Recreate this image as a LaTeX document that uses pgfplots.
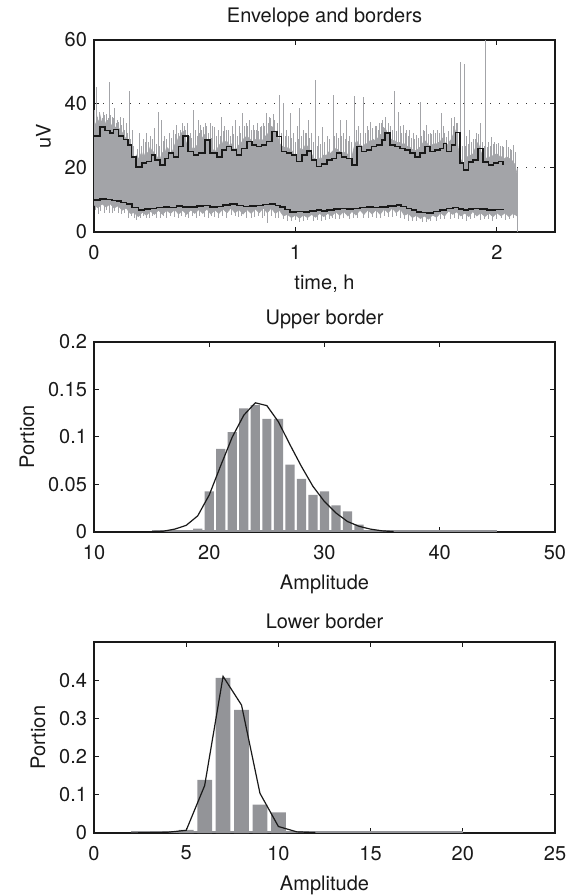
\documentclass[border=0pt]{standalone}
\usepackage{fontspec}
\setmainfont{TeX Gyre Heros}
\usepackage{pgfplots}
\pgfplotsset{compat=1.18}
\definecolor{siggray}{RGB}{163,164,168}
\definecolor{histgray}{RGB}{147,148,152}
\definecolor{lineblk}{RGB}{25,25,25}
\newcommand{\myfont}{\fontsize{10bp}{12bp}\selectfont}
\pgfplotsset{base/.style={
  scale only axis, anchor=south west, width=230.5bp,
  axis line style={line width=0.7bp, black!90},
  every tick/.style={line width=0.5bp, black!90},
  tick align=inside, major tick length=2.3bp,
  /pgf/number format/assume math mode=true,
  tick label style={font=\myfont, text=black!90},
  xticklabel style={yshift=-3bp},
  label style={font=\myfont, text=black!90},
  xlabel style={yshift=-1bp},
  title style={font=\myfont, text=black!90, yshift=-3bp},
  scaled ticks=false, clip=true,
}}
\begin{document}
\begin{tikzpicture}
% ---------------- top: envelope and borders
\begin{axis}[base, at={(47bp,331.5bp)}, height=96bp,
  xmin=0, xmax=2.288, ymin=0, ymax=60,
  xtick={0,1,2}, xticklabels={0,1,2},
  ytick={0,20,40,60}, yticklabels={0,20,40,60},
  ymajorgrids, grid style={black!80, line width=0.5bp, dash pattern=on 0.5bp off 4bp},
  title={Envelope and borders}, xlabel={time, h}, ylabel={uV},
  unbounded coords=jump]
% dense signal band
\addplot[fill=siggray, draw=siggray, line width=0.3bp] coordinates {
(0.000,35) (0.008,33) (0.015,36) (0.022,34) (0.030,36.5) (0.038,34) (0.045,35.5) (0.055,33.5) (0.062,35) (0.070,33)
(0.079,34.5) (0.088,33) (0.096,34.5) (0.105,32.5) (0.113,33) (0.121,31.5) (0.130,32.5) (0.138,30.5) (0.146,31.5) (0.155,29)
(0.162,30) (0.170,28.5) (0.178,27) (0.187,26) (0.195,23.5) (0.203,22.5) (0.210,24) (0.220,22.5) (0.228,24.5) (0.237,23)
(0.245,25) (0.253,23.5) (0.261,25) (0.270,24.5) (0.278,26.5) (0.286,25.5) (0.295,25) (0.303,24) (0.312,22.5) (0.320,24)
(0.328,22.5) (0.336,24.5) (0.344,25) (0.352,24.5) (0.360,26.5) (0.369,26) (0.377,25) (0.386,24.5) (0.394,26) (0.402,27.5)
(0.411,28) (0.419,29.5) (0.427,30) (0.435,31) (0.443,31.5) (0.451,29.5) (0.460,27.5) (0.468,26.5) (0.476,27) (0.485,25.5)
(0.493,26.5) (0.501,26) (0.510,27) (0.518,26.5) (0.527,27.5) (0.535,29) (0.543,30) (0.551,30.5) (0.560,29) (0.568,27.5)
(0.576,26) (0.585,26.5) (0.593,25.5) (0.601,25) (0.609,26) (0.617,26.5) (0.626,27.5) (0.634,27) (0.642,28.5) (0.650,28)
(0.658,28.5) (0.667,27.5) (0.675,27) (0.683,27.5) (0.691,26.5) (0.700,25.5) (0.708,26) (0.716,27) (0.725,27.5) (0.733,28)
(0.741,29) (0.750,29.5) (0.758,30) (0.766,29.5) (0.775,29) (0.783,28.5) (0.791,28) (0.799,29) (0.807,28.5) (0.815,28)
(0.824,29) (0.832,29) (0.840,28.5) (0.848,30) (0.857,30) (0.865,31) (0.873,32.5) (0.882,33) (0.890,32.5) (0.898,31.5)
(0.907,31.5) (0.915,29) (0.923,27.5) (0.931,27) (0.940,26.5) (0.948,26.5) (0.956,26) (0.965,26.5) (0.973,25.5) (0.981,25.5)
(0.990,24.5) (0.998,24) (1.006,23.5) (1.014,24.5) (1.022,26) (1.031,26) (1.039,25.5) (1.047,27) (1.056,27) (1.064,26.5)
(1.072,25.5) (1.080,24.5) (1.089,23) (1.097,23) (1.105,22.5) (1.113,23.5) (1.122,22.5) (1.130,23) (1.138,24) (1.147,24)
(1.155,24) (1.163,25) (1.172,24.5) (1.180,25) (1.188,25.5) (1.196,26) (1.204,26) (1.213,25.5) (1.221,25) (1.229,25)
(1.238,24.5) (1.246,25) (1.254,24.5) (1.262,24) (1.271,23) (1.279,23) (1.287,25.5) (1.295,27.5) (1.304,28.5) (1.312,27.5)
(1.320,27) (1.328,27) (1.337,26.5) (1.345,27.5) (1.353,27.5) (1.361,28) (1.370,28.5) (1.378,28.5) (1.386,29) (1.394,28.5)
(1.403,29) (1.411,29.5) (1.419,30.5) (1.428,30.5) (1.436,32) (1.444,32.5) (1.452,31.5) (1.461,30) (1.469,29) (1.477,29)
(1.486,28.5) (1.494,28.5) (1.502,28) (1.510,28) (1.519,28) (1.527,27.5) (1.535,27.5) (1.543,27.5) (1.551,27) (1.560,26.5)
(1.568,26.5) (1.576,26) (1.585,25.5) (1.593,25.5) (1.601,25.5) (1.609,26) (1.618,26.5) (1.626,27) (1.634,28) (1.643,28.5)
(1.651,28) (1.659,27) (1.667,27) (1.676,27) (1.684,27.5) (1.692,27.5) (1.700,27.5) (1.709,28) (1.717,28) (1.725,29)
(1.734,29.5) (1.742,28) (1.750,27) (1.758,27.5) (1.767,28.5) (1.775,29) (1.783,30.5) (1.791,32) (1.800,30) (1.808,26)
(1.816,23.5) (1.825,22) (1.833,21.5) (1.841,22) (1.850,23.5) (1.858,23.5) (1.866,24) (1.874,24) (1.882,24.5) (1.891,26)
(1.899,27.5) (1.907,28) (1.915,26) (1.924,24.5) (1.932,24) (1.940,23.5) (1.949,23) (1.957,23) (1.965,23.5) (1.973,23.5)
(1.982,24) (1.990,24) (1.998,24.5) (2.007,24) (2.015,23.5) (2.023,23.5) (2.031,23) (2.040,23) (2.048,23.5) (2.056,23)
(2.064,23) (2.072,22.5) (2.080,22) (2.089,21) (2.100,18)
(2.10,5) (2.08,5.8) (2.06,4.8) (2.04,6) (2.02,5) (2.00,6) (1.98,4.8) (1.96,5.9) (1.94,4.8) (1.92,6)
(1.90,5) (1.88,6.4) (1.86,4.8) (1.84,5.9) (1.82,5) (1.80,6.3) (1.78,5.5) (1.76,6.6) (1.74,5) (1.72,6)
(1.70,4.6) (1.68,5.3) (1.66,4) (1.64,5) (1.62,4.2) (1.60,5.2) (1.58,4.5) (1.56,5.8) (1.54,5.2) (1.52,7.2)
(1.50,6) (1.48,7.5) (1.46,6) (1.44,7.2) (1.42,5.5) (1.40,6.9) (1.38,5.6) (1.36,6.9) (1.34,5.5) (1.32,6.8)
(1.30,5.3) (1.28,6.4) (1.26,5) (1.24,6.4) (1.22,5.2) (1.20,6.3) (1.18,5) (1.16,5.8) (1.14,4.8) (1.12,5.8)
(1.10,4.6) (1.08,5.5) (1.06,4.5) (1.04,5.3) (1.02,4.3) (1.00,5.3) (0.98,4.5) (0.96,5.5) (0.94,5) (0.92,6.8)
(0.90,5.8) (0.88,7.5) (0.86,6) (0.84,7.5) (0.82,6) (0.80,7.2) (0.78,5.8) (0.76,7) (0.74,5.6) (0.72,7)
(0.70,6) (0.68,7.5) (0.66,6) (0.64,7.2) (0.62,5.8) (0.60,6.9) (0.58,5.6) (0.56,7.2) (0.54,5.8) (0.52,7)
(0.50,5.8) (0.48,6.9) (0.46,5.5) (0.44,6.8) (0.42,5.6) (0.40,7) (0.38,5.8) (0.36,6.8) (0.34,5.5) (0.32,6.8)
(0.30,5.5) (0.28,6.5) (0.26,5.2) (0.24,6.2) (0.22,4.8) (0.20,6) (0.18,5.8) (0.16,7.5) (0.14,6.8) (0.12,8.2)
(0.10,7.5) (0.08,8.8) (0.06,7.8) (0.04,8.8) (0.02,7.5) (0.00,8.5)} -- cycle;
% upward spikes
\addplot[siggray, line width=0.5bp] coordinates {
(0.004,15) (0.004,38) (0.004,nan) (0.010,15) (0.010,45.4) (0.010,nan) (0.018,15) (0.018,36) (0.018,nan)
(0.026,15) (0.026,37.5) (0.026,nan) (0.040,15) (0.040,35.5) (0.040,nan) (0.050,15) (0.050,36.5) (0.050,nan)
(0.060,15) (0.060,37) (0.060,nan) (0.068,15) (0.068,35) (0.068,nan) (0.079,15) (0.079,47) (0.079,nan)
(0.090,15) (0.090,36) (0.090,nan) (0.104,15) (0.104,38.8) (0.104,nan) (0.115,15) (0.115,35) (0.115,nan)
(0.133,15) (0.133,36) (0.133,nan) (0.146,15) (0.146,35.5) (0.146,nan) (0.160,15) (0.160,34) (0.160,nan)
(0.175,15) (0.175,44) (0.175,nan) (0.190,15) (0.190,32) (0.190,nan) (0.228,15) (0.228,30.8) (0.228,nan)
(0.245,15) (0.245,29) (0.245,nan) (0.262,15) (0.262,31) (0.262,nan) (0.280,15) (0.280,30) (0.280,nan)
(0.300,15) (0.300,32.5) (0.300,nan) (0.319,15) (0.319,37.6) (0.319,nan) (0.336,15) (0.336,35) (0.336,nan)
(0.350,15) (0.350,30) (0.350,nan) (0.375,15) (0.375,31) (0.375,nan) (0.395,15) (0.395,32) (0.395,nan)
(0.410,15) (0.410,33.4) (0.410,nan) (0.427,15) (0.427,31.9) (0.427,nan) (0.450,15) (0.450,33) (0.450,nan)
(0.463,15) (0.463,34) (0.463,nan) (0.480,15) (0.480,31) (0.480,nan) (0.493,15) (0.493,38.1) (0.493,nan)
(0.505,15) (0.505,32) (0.505,nan) (0.518,15) (0.518,35) (0.518,nan) (0.530,15) (0.530,33.5) (0.530,nan)
(0.543,15) (0.543,32.9) (0.543,nan) (0.560,15) (0.560,33) (0.560,nan) (0.576,15) (0.576,34) (0.576,nan)
(0.590,15) (0.590,33) (0.590,nan) (0.600,15) (0.600,32.9) (0.600,nan) (0.617,15) (0.617,32) (0.617,nan)
(0.634,15) (0.634,36) (0.634,nan) (0.650,15) (0.650,33) (0.650,nan) (0.667,15) (0.667,31.9) (0.667,nan)
(0.685,15) (0.685,33) (0.685,nan) (0.700,15) (0.700,35) (0.700,nan) (0.720,15) (0.720,33) (0.720,nan)
(0.738,15) (0.738,37.1) (0.738,nan) (0.755,15) (0.755,34) (0.755,nan) (0.774,15) (0.774,35) (0.774,nan)
(0.790,15) (0.790,33.5) (0.790,nan) (0.799,15) (0.799,31.9) (0.799,nan) (0.812,15) (0.812,34) (0.812,nan)
(0.824,15) (0.824,32.9) (0.824,nan) (0.840,15) (0.840,34) (0.840,nan) (0.857,15) (0.857,37.1) (0.857,nan)
(0.870,15) (0.870,36) (0.870,nan) (0.890,15) (0.890,37) (0.890,nan) (0.923,15) (0.923,42.8) (0.923,nan)
(0.940,15) (0.940,40.2) (0.940,nan) (0.955,15) (0.955,32) (0.955,nan) (0.973,15) (0.973,37.3) (0.973,nan)
(0.990,15) (0.990,31) (0.990,nan) (1.010,15) (1.010,33) (1.010,nan) (1.022,15) (1.022,38.6) (1.022,nan)
(1.040,15) (1.040,32) (1.040,nan) (1.064,15) (1.064,35) (1.064,nan) (1.080,15) (1.080,31) (1.080,nan)
(1.100,15) (1.100,47.5) (1.100,nan) (1.115,15) (1.115,30) (1.115,nan) (1.135,15) (1.135,32.9) (1.135,nan)
(1.160,15) (1.160,30) (1.160,nan) (1.188,15) (1.188,42.8) (1.188,nan) (1.205,15) (1.205,31) (1.205,nan)
(1.221,15) (1.221,35) (1.221,nan) (1.238,15) (1.238,31) (1.238,nan) (1.254,15) (1.254,35) (1.254,nan)
(1.270,15) (1.270,30) (1.270,nan) (1.295,15) (1.295,42.5) (1.295,nan) (1.315,15) (1.315,33) (1.315,nan)
(1.337,15) (1.337,42.3) (1.337,nan) (1.355,15) (1.355,33) (1.355,nan) (1.373,15) (1.373,34.5) (1.373,nan)
(1.395,15) (1.395,33) (1.395,nan) (1.411,15) (1.411,31.9) (1.411,nan) (1.425,15) (1.425,34) (1.425,nan)
(1.439,15) (1.439,32.9) (1.439,nan) (1.460,15) (1.460,34) (1.460,nan) (1.489,15) (1.489,44) (1.489,nan)
(1.510,15) (1.510,37.6) (1.510,nan) (1.520,15) (1.520,33) (1.520,nan) (1.535,15) (1.535,33.4) (1.535,nan)
(1.550,15) (1.550,32) (1.550,nan) (1.568,15) (1.568,31.9) (1.568,nan) (1.585,15) (1.585,31) (1.585,nan)
(1.601,15) (1.601,30.3) (1.601,nan) (1.618,15) (1.618,40.6) (1.618,nan) (1.635,15) (1.635,32) (1.635,nan)
(1.651,15) (1.651,33.4) (1.651,nan) (1.668,15) (1.668,31) (1.668,nan) (1.684,15) (1.684,31.9) (1.684,nan)
(1.705,15) (1.705,32) (1.705,nan) (1.725,15) (1.725,37.1) (1.725,nan) (1.750,15) (1.750,29.8) (1.750,nan)
(1.775,15) (1.775,35.5) (1.775,nan) (1.790,15) (1.790,36) (1.790,nan) (1.805,15) (1.805,34) (1.805,nan)
(1.821,15) (1.821,53.2) (1.821,nan) (1.838,15) (1.838,52.6) (1.838,nan) (1.850,15) (1.850,30) (1.850,nan)
(1.866,15) (1.866,31.9) (1.866,nan) (1.885,15) (1.885,29) (1.885,nan) (1.900,15) (1.900,31) (1.900,nan)
(1.916,15) (1.916,34) (1.916,nan) (1.944,15) (1.944,60) (1.944,nan) (1.960,15) (1.960,28) (1.960,nan)
(1.973,15) (1.973,29.8) (1.973,nan) (1.990,15) (1.990,28) (1.990,nan) (2.007,15) (2.007,27.7) (2.007,nan)
(2.025,15) (2.025,27) (2.025,nan) (2.048,15) (2.048,28.8) (2.048,nan) (2.065,15) (2.065,26) (2.065,nan)
(2.081,15) (2.081,27.2) (2.081,nan)};
% short upward spikes (fringe)
\addplot[siggray, line width=0.5bp] coordinates {
(0.014,15) (0.014,37) (0.014,nan) (0.034,15) (0.034,36) (0.034,nan) (0.046,15) (0.046,37.5) (0.046,nan)
(0.074,15) (0.074,35.5) (0.074,nan) (0.084,15) (0.084,36.5) (0.084,nan) (0.098,15) (0.098,35.5) (0.098,nan)
(0.110,15) (0.110,34) (0.110,nan) (0.124,15) (0.124,34.5) (0.124,nan) (0.138,15) (0.138,33.5) (0.138,nan)
(0.153,15) (0.153,32) (0.153,nan) (0.168,15) (0.168,31) (0.168,nan) (0.182,15) (0.182,29) (0.182,nan)
(0.198,15) (0.198,27) (0.198,nan) (0.214,15) (0.214,26) (0.214,nan) (0.236,15) (0.236,27) (0.236,nan)
(0.254,15) (0.254,28) (0.254,nan) (0.270,15) (0.270,28) (0.270,nan) (0.290,15) (0.290,29) (0.290,nan)
(0.310,15) (0.310,27.5) (0.310,nan) (0.326,15) (0.326,27) (0.326,nan) (0.344,15) (0.344,28.5) (0.344,nan)
(0.360,15) (0.360,29) (0.360,nan) (0.384,15) (0.384,29.5) (0.384,nan) (0.404,15) (0.404,30.5) (0.404,nan)
(0.418,15) (0.418,31) (0.418,nan) (0.438,15) (0.438,34) (0.438,nan) (0.456,15) (0.456,32) (0.456,nan)
(0.472,15) (0.472,30) (0.472,nan) (0.486,15) (0.486,29.5) (0.486,nan) (0.512,15) (0.512,30) (0.512,nan)
(0.524,15) (0.524,31) (0.524,nan) (0.536,15) (0.536,32) (0.536,nan) (0.552,15) (0.552,34) (0.552,nan)
(0.568,15) (0.568,31) (0.568,nan) (0.584,15) (0.584,29.5) (0.584,nan) (0.607,15) (0.607,30) (0.607,nan)
(0.626,15) (0.626,30) (0.626,nan) (0.642,15) (0.642,31.5) (0.642,nan) (0.658,15) (0.658,32) (0.658,nan)
(0.676,15) (0.676,30) (0.676,nan) (0.692,15) (0.692,30.5) (0.692,nan) (0.710,15) (0.710,30) (0.710,nan)
(0.728,15) (0.728,31) (0.728,nan) (0.746,15) (0.746,33) (0.746,nan) (0.764,15) (0.764,33) (0.764,nan)
(0.782,15) (0.782,32) (0.782,nan) (0.806,15) (0.806,32) (0.806,nan) (0.818,15) (0.818,31.5) (0.818,nan)
(0.832,15) (0.832,33) (0.832,nan) (0.848,15) (0.848,33) (0.848,nan) (0.864,15) (0.864,34) (0.864,nan)
(0.878,15) (0.878,35.5) (0.878,nan) (0.898,15) (0.898,35) (0.898,nan) (0.910,15) (0.910,34) (0.910,nan)
(0.932,15) (0.932,31) (0.932,nan) (0.948,15) (0.948,30) (0.948,nan) (0.964,15) (0.964,30) (0.964,nan)
(0.982,15) (0.982,29.5) (0.982,nan) (0.998,15) (0.998,28) (0.998,nan) (1.016,15) (1.016,29) (1.016,nan)
(1.032,15) (1.032,30) (1.032,nan) (1.048,15) (1.048,31) (1.048,nan) (1.056,15) (1.056,31) (1.056,nan)
(1.072,15) (1.072,29.5) (1.072,nan) (1.090,15) (1.090,28) (1.090,nan) (1.108,15) (1.108,27) (1.108,nan)
(1.124,15) (1.124,27.5) (1.124,nan) (1.144,15) (1.144,28) (1.144,nan) (1.170,15) (1.170,29) (1.170,nan)
(1.196,15) (1.196,30) (1.196,nan) (1.214,15) (1.214,29.5) (1.214,nan) (1.230,15) (1.230,30) (1.230,nan)
(1.246,15) (1.246,29) (1.246,nan) (1.262,15) (1.262,28.5) (1.262,nan) (1.280,15) (1.280,28) (1.280,nan)
(1.304,15) (1.304,32) (1.304,nan) (1.324,15) (1.324,31) (1.324,nan) (1.346,15) (1.346,31) (1.346,nan)
(1.364,15) (1.364,32) (1.364,nan) (1.384,15) (1.384,32.5) (1.384,nan) (1.404,15) (1.404,33) (1.404,nan)
(1.418,15) (1.418,34) (1.418,nan) (1.432,15) (1.432,35) (1.432,nan) (1.448,15) (1.448,36) (1.448,nan)
(1.470,15) (1.470,33) (1.470,nan) (1.480,15) (1.480,32) (1.480,nan) (1.500,15) (1.500,31.5) (1.500,nan)
(1.528,15) (1.528,31) (1.528,nan) (1.544,15) (1.544,31) (1.544,nan) (1.560,15) (1.560,30) (1.560,nan)
(1.576,15) (1.576,29.5) (1.576,nan) (1.592,15) (1.592,29) (1.592,nan) (1.610,15) (1.610,29.5) (1.610,nan)
(1.626,15) (1.626,30) (1.626,nan) (1.642,15) (1.642,31.5) (1.642,nan) (1.660,15) (1.660,30.5) (1.660,nan)
(1.676,15) (1.676,30.5) (1.676,nan) (1.694,15) (1.694,31) (1.694,nan) (1.714,15) (1.714,31) (1.714,nan)
(1.734,15) (1.734,33) (1.734,nan) (1.742,15) (1.742,31) (1.742,nan) (1.760,15) (1.760,31.5) (1.760,nan)
(1.782,15) (1.782,33) (1.782,nan) (1.798,15) (1.798,34) (1.798,nan) (1.812,15) (1.812,29) (1.812,nan)
(1.828,15) (1.828,27) (1.828,nan) (1.846,15) (1.846,27) (1.846,nan) (1.858,15) (1.858,27.5) (1.858,nan)
(1.874,15) (1.874,28) (1.874,nan) (1.892,15) (1.892,29) (1.892,nan) (1.908,15) (1.908,30.5) (1.908,nan)
(1.926,15) (1.926,28) (1.926,nan) (1.936,15) (1.936,27) (1.936,nan) (1.952,15) (1.952,26.5) (1.952,nan)
(1.966,15) (1.966,27) (1.966,nan) (1.982,15) (1.982,27.5) (1.982,nan) (2.000,15) (2.000,27.5) (2.000,nan)
(2.016,15) (2.016,27) (2.016,nan) (2.034,15) (2.034,26.5) (2.034,nan) (2.056,15) (2.056,26.5) (2.056,nan)
(2.072,15) (2.072,25.5) (2.072,nan) (2.092,15) (2.092,25) (2.092,nan)};
% downward spikes
\addplot[siggray, line width=0.5bp] coordinates {
(0.008,9) (0.008,7) (0.008,nan) (0.020,9) (0.020,5.5) (0.020,nan) (0.034,9) (0.034,6.5) (0.034,nan)
(0.050,9) (0.050,6) (0.050,nan) (0.064,9) (0.064,7) (0.064,nan) (0.076,9) (0.076,6) (0.076,nan)
(0.090,9) (0.090,6) (0.090,nan) (0.104,9) (0.104,6.5) (0.104,nan) (0.122,9) (0.122,6) (0.122,nan)
(0.138,9) (0.138,5.5) (0.138,nan) (0.150,9) (0.150,6) (0.150,nan) (0.170,9) (0.170,4.5) (0.170,nan)
(0.188,9) (0.188,5) (0.188,nan) (0.200,9) (0.200,4.5) (0.200,nan) (0.210,9) (0.210,3.8) (0.210,nan)
(0.232,9) (0.232,4.5) (0.232,nan) (0.246,9) (0.246,5) (0.246,nan) (0.260,9) (0.260,4.5) (0.260,nan)
(0.274,9) (0.274,4.5) (0.274,nan) (0.290,9) (0.290,5) (0.290,nan) (0.310,9) (0.310,4.5) (0.310,nan)
(0.330,9) (0.330,4.5) (0.330,nan) (0.346,9) (0.346,5) (0.346,nan) (0.362,9) (0.362,4.5) (0.362,nan)
(0.380,9) (0.380,5) (0.380,nan) (0.400,9) (0.400,4.8) (0.400,nan) (0.418,9) (0.418,4.5) (0.418,nan)
(0.436,9) (0.436,5) (0.436,nan) (0.452,9) (0.452,4.8) (0.452,nan) (0.470,9) (0.470,4.5) (0.470,nan)
(0.490,9) (0.490,5) (0.490,nan) (0.508,9) (0.508,4.5) (0.508,nan) (0.526,9) (0.526,5) (0.526,nan)
(0.550,9) (0.550,4.8) (0.550,nan) (0.566,9) (0.566,4.5) (0.566,nan) (0.582,9) (0.582,5) (0.582,nan)
(0.600,9) (0.600,4.8) (0.600,nan) (0.620,9) (0.620,4.5) (0.620,nan) (0.640,9) (0.640,5) (0.640,nan)
(0.658,9) (0.658,4.5) (0.658,nan) (0.680,9) (0.680,5.2) (0.680,nan) (0.700,9) (0.700,5) (0.700,nan)
(0.716,9) (0.716,4.8) (0.716,nan) (0.734,9) (0.734,5) (0.734,nan) (0.756,9) (0.756,4.5) (0.756,nan)
(0.780,9) (0.780,4.5) (0.780,nan) (0.796,9) (0.796,4.8) (0.796,nan) (0.814,9) (0.814,5) (0.814,nan)
(0.834,9) (0.834,4.5) (0.834,nan) (0.846,9) (0.846,5) (0.846,nan) (0.860,9) (0.860,2.9) (0.860,nan)
(0.880,9) (0.880,5) (0.880,nan) (0.900,9) (0.900,4.5) (0.900,nan) (0.914,9) (0.914,4.5) (0.914,nan)
(0.940,9) (0.940,4) (0.940,nan) (0.960,9) (0.960,3.5) (0.960,nan) (0.980,9) (0.980,3.5) (0.980,nan)
(1.000,9) (1.000,3.8) (1.000,nan) (1.020,9) (1.020,3.2) (1.020,nan) (1.040,9) (1.040,3.5) (1.040,nan)
(1.060,9) (1.060,3.8) (1.060,nan) (1.090,9) (1.090,3.5) (1.090,nan) (1.110,9) (1.110,3.8) (1.110,nan)
(1.130,9) (1.130,3.5) (1.130,nan) (1.150,9) (1.150,3.8) (1.150,nan) (1.170,9) (1.170,4) (1.170,nan)
(1.186,9) (1.186,4.5) (1.186,nan) (1.200,9) (1.200,4) (1.200,nan) (1.220,9) (1.220,4) (1.220,nan)
(1.240,9) (1.240,4.5) (1.240,nan) (1.270,9) (1.270,4) (1.270,nan) (1.290,9) (1.290,4.5) (1.290,nan)
(1.310,9) (1.310,4.5) (1.310,nan) (1.340,9) (1.340,4.5) (1.340,nan) (1.360,9) (1.360,4.5) (1.360,nan)
(1.380,9) (1.380,4.8) (1.380,nan) (1.400,9) (1.400,4.5) (1.400,nan) (1.420,9) (1.420,4.5) (1.420,nan)
(1.440,9) (1.440,5) (1.440,nan) (1.460,9) (1.460,4.8) (1.460,nan) (1.480,9) (1.480,4.8) (1.480,nan)
(1.500,9) (1.500,5) (1.500,nan) (1.520,9) (1.520,4.5) (1.520,nan) (1.540,9) (1.540,4) (1.540,nan)
(1.560,9) (1.560,3.5) (1.560,nan) (1.580,9) (1.580,3.5) (1.580,nan) (1.600,9) (1.600,3.5) (1.600,nan)
(1.630,9) (1.630,3) (1.630,nan) (1.650,9) (1.650,3.2) (1.650,nan) (1.670,9) (1.670,3.5) (1.670,nan)
(1.700,9) (1.700,3.5) (1.700,nan) (1.720,9) (1.720,4) (1.720,nan) (1.740,9) (1.740,4) (1.740,nan)
(1.770,9) (1.770,4) (1.770,nan) (1.790,9) (1.790,4.5) (1.790,nan) (1.810,9) (1.810,4) (1.810,nan)
(1.830,9) (1.830,4) (1.830,nan) (1.850,9) (1.850,3.5) (1.850,nan) (1.870,9) (1.870,4) (1.870,nan)
(1.890,9) (1.890,4.5) (1.890,nan) (1.920,9) (1.920,3.8) (1.920,nan) (1.940,9) (1.940,4) (1.940,nan)
(1.960,9) (1.960,4) (1.960,nan) (1.980,9) (1.980,3.5) (1.980,nan) (2.000,9) (2.000,4) (2.000,nan)
(2.020,9) (2.020,4.5) (2.020,nan) (2.040,9) (2.040,3.8) (2.040,nan) (2.060,9) (2.060,4) (2.060,nan)
(2.080,9) (2.080,4.5) (2.080,nan) (2.100,20) (2.100,0) (2.100,nan)};
% upper border
\addplot[lineblk, line width=0.8bp, const plot] coordinates {
(0,30) (0.030,32.9) (0.055,31.7) (0.079,31) (0.096,32) (0.121,30) (0.146,28.9) (0.170,27.2) (0.187,23.5) (0.208,20.4)
(0.237,21.5) (0.261,22) (0.286,24.1) (0.303,22.5) (0.328,20.9) (0.352,23) (0.369,24.6) (0.394,23.5) (0.419,26.7) (0.443,30)
(0.468,25.1) (0.493,24.1) (0.518,24.6) (0.551,28.8) (0.576,24.6) (0.609,23.5) (0.634,25.6) (0.658,26.7) (0.683,25.6) (0.708,24.1)
(0.733,26.1) (0.758,28.3) (0.783,27.2) (0.807,26.7) (0.832,27.2) (0.857,28.3) (0.882,31.4) (0.907,29.8) (0.931,25.1) (0.956,24.6)
(0.981,24.1) (1.006,22) (1.031,24.1) (1.056,25.3) (1.080,22.5) (1.105,20.5) (1.130,21.2) (1.155,22.5) (1.180,23) (1.204,24.6)
(1.229,23.5) (1.254,23) (1.279,20.9) (1.304,26.7) (1.328,25.1) (1.353,25.6) (1.378,26.7) (1.403,27.2) (1.428,28.8) (1.444,30.9)
(1.469,27.2) (1.494,26.7) (1.519,26.1) (1.543,25.6) (1.568,24.6) (1.593,23.5) (1.618,24.6) (1.643,26.7) (1.667,25.1) (1.692,25.6)
(1.717,26.1) (1.734,27.7) (1.750,25.1) (1.775,27.2) (1.795,31.1) (1.816,21.5) (1.833,19.4) (1.858,21.9) (1.882,22.5) (1.907,26.1)
(1.932,21.9) (1.957,20.9) (1.982,21.5) (2.007,22) (2.031,20.9)};
% lower border
\addplot[lineblk, line width=0.8bp, const plot] coordinates {
(0,10) (0.03,10.3) (0.063,10.1) (0.09,9.9) (0.112,9.6) (0.135,9.2) (0.162,8.75) (0.19,7.6) (0.220,6.9) (0.25,7.2)
(0.278,7.4) (0.31,7.6) (0.344,7.9) (0.375,7.7) (0.410,8.1) (0.44,7.8) (0.476,7.9) (0.51,8.1) (0.543,8.3) (0.575,7.9)
(0.609,8) (0.64,8.4) (0.675,8.75) (0.71,8.3) (0.741,8) (0.775,8.2) (0.807,8.3) (0.84,8.6) (0.874,8.75) (0.90,8.3)
(0.923,7.9) (0.948,7) (0.973,6.3) (1.005,6.4) (1.039,6.3) (1.07,6.6) (1.105,6.9) (1.13,6.6) (1.155,6.9) (1.19,7.2)
(1.221,7.4) (1.255,7.2) (1.287,7.4) (1.32,7.7) (1.353,7.9) (1.385,7.6) (1.419,7.9) (1.46,8.2) (1.502,8.5) (1.525,8)
(1.551,7.4) (1.575,6.8) (1.601,6.3) (1.626,6.1) (1.651,5.9) (1.685,6.4) (1.717,6.9) (1.75,7.3) (1.783,7.7) (1.81,7.2)
(1.833,6.9) (1.858,7.2) (1.882,7.4) (1.915,7.1) (1.949,6.9) (1.99,7.0) (2.031,7.1)};
\end{axis}
% ---------------- middle: upper border histogram
\begin{axis}[base, at={(47bp,181.5bp)}, height=95bp,
  xmin=10, xmax=50, ymin=0, ymax=0.2,
  xtick={10,20,30,40,50}, xticklabels={10,20,30,40,50},
  ytick={0,0.05,0.1,0.15,0.2}, yticklabels={0,0.05,0.1,0.15,0.2},
  title={Upper border}, xlabel={Amplitude}, ylabel={Portion}]
\addplot[histgray, line width=0.8bp] coordinates {(15,0.0012) (45,0.0012)};
\addplot[ybar, bar width=0.8, fill=histgray, draw=none] coordinates {
(19,0.0035) (20,0.0427) (21,0.0874) (22,0.105) (23,0.130) (24,0.1336) (25,0.119) (26,0.119)
(27,0.071) (28,0.056) (29,0.039) (30,0.0427) (31,0.028) (32,0.0217) (33,0.0077)};
\addplot[lineblk, line width=0.6bp] coordinates {
(15,0.0003) (16,0.0008) (17,0.003) (18,0.007) (19,0.017) (20,0.039) (21,0.07) (22,0.1) (23,0.123) (24,0.136)
(25,0.133) (26,0.116) (27,0.092) (28,0.069) (29,0.048) (30,0.032) (31,0.02) (32,0.011) (33,0.006) (34,0.003)
(35,0.0012) (36,0.0004)};
\end{axis}
% ---------------- bottom: lower border histogram
\begin{axis}[base, at={(47bp,31bp)}, height=95.5bp,
  xmin=0, xmax=25, ymin=0, ymax=0.5,
  xtick={0,5,10,15,20,25}, xticklabels={0,5,10,15,20,25},
  ytick={0,0.1,0.2,0.3,0.4}, yticklabels={0,0.1,0.2,0.3,0.4},
  title={Lower border}, xlabel={Amplitude}, ylabel={Portion}]
\addplot[histgray, line width=0.8bp] coordinates {(2,0.003) (20,0.003)};
\addplot[ybar, bar width=0.8, fill=histgray, draw=none] coordinates {
(5,0.008) (6,0.139) (7,0.406) (8,0.322) (9,0.074) (10,0.054)};
\addplot[lineblk, line width=0.6bp] coordinates {
(2,0) (3,0.001) (4,0.002) (5,0.007) (6,0.124) (7,0.41) (8,0.335) (9,0.104) (10,0.017) (11,0.003) (12,0.001)};
\end{axis}
\pgfresetboundingbox
\path[use as bounding box] (0,0) rectangle (283.5bp,447.5bp);
\end{tikzpicture}
\end{document}
